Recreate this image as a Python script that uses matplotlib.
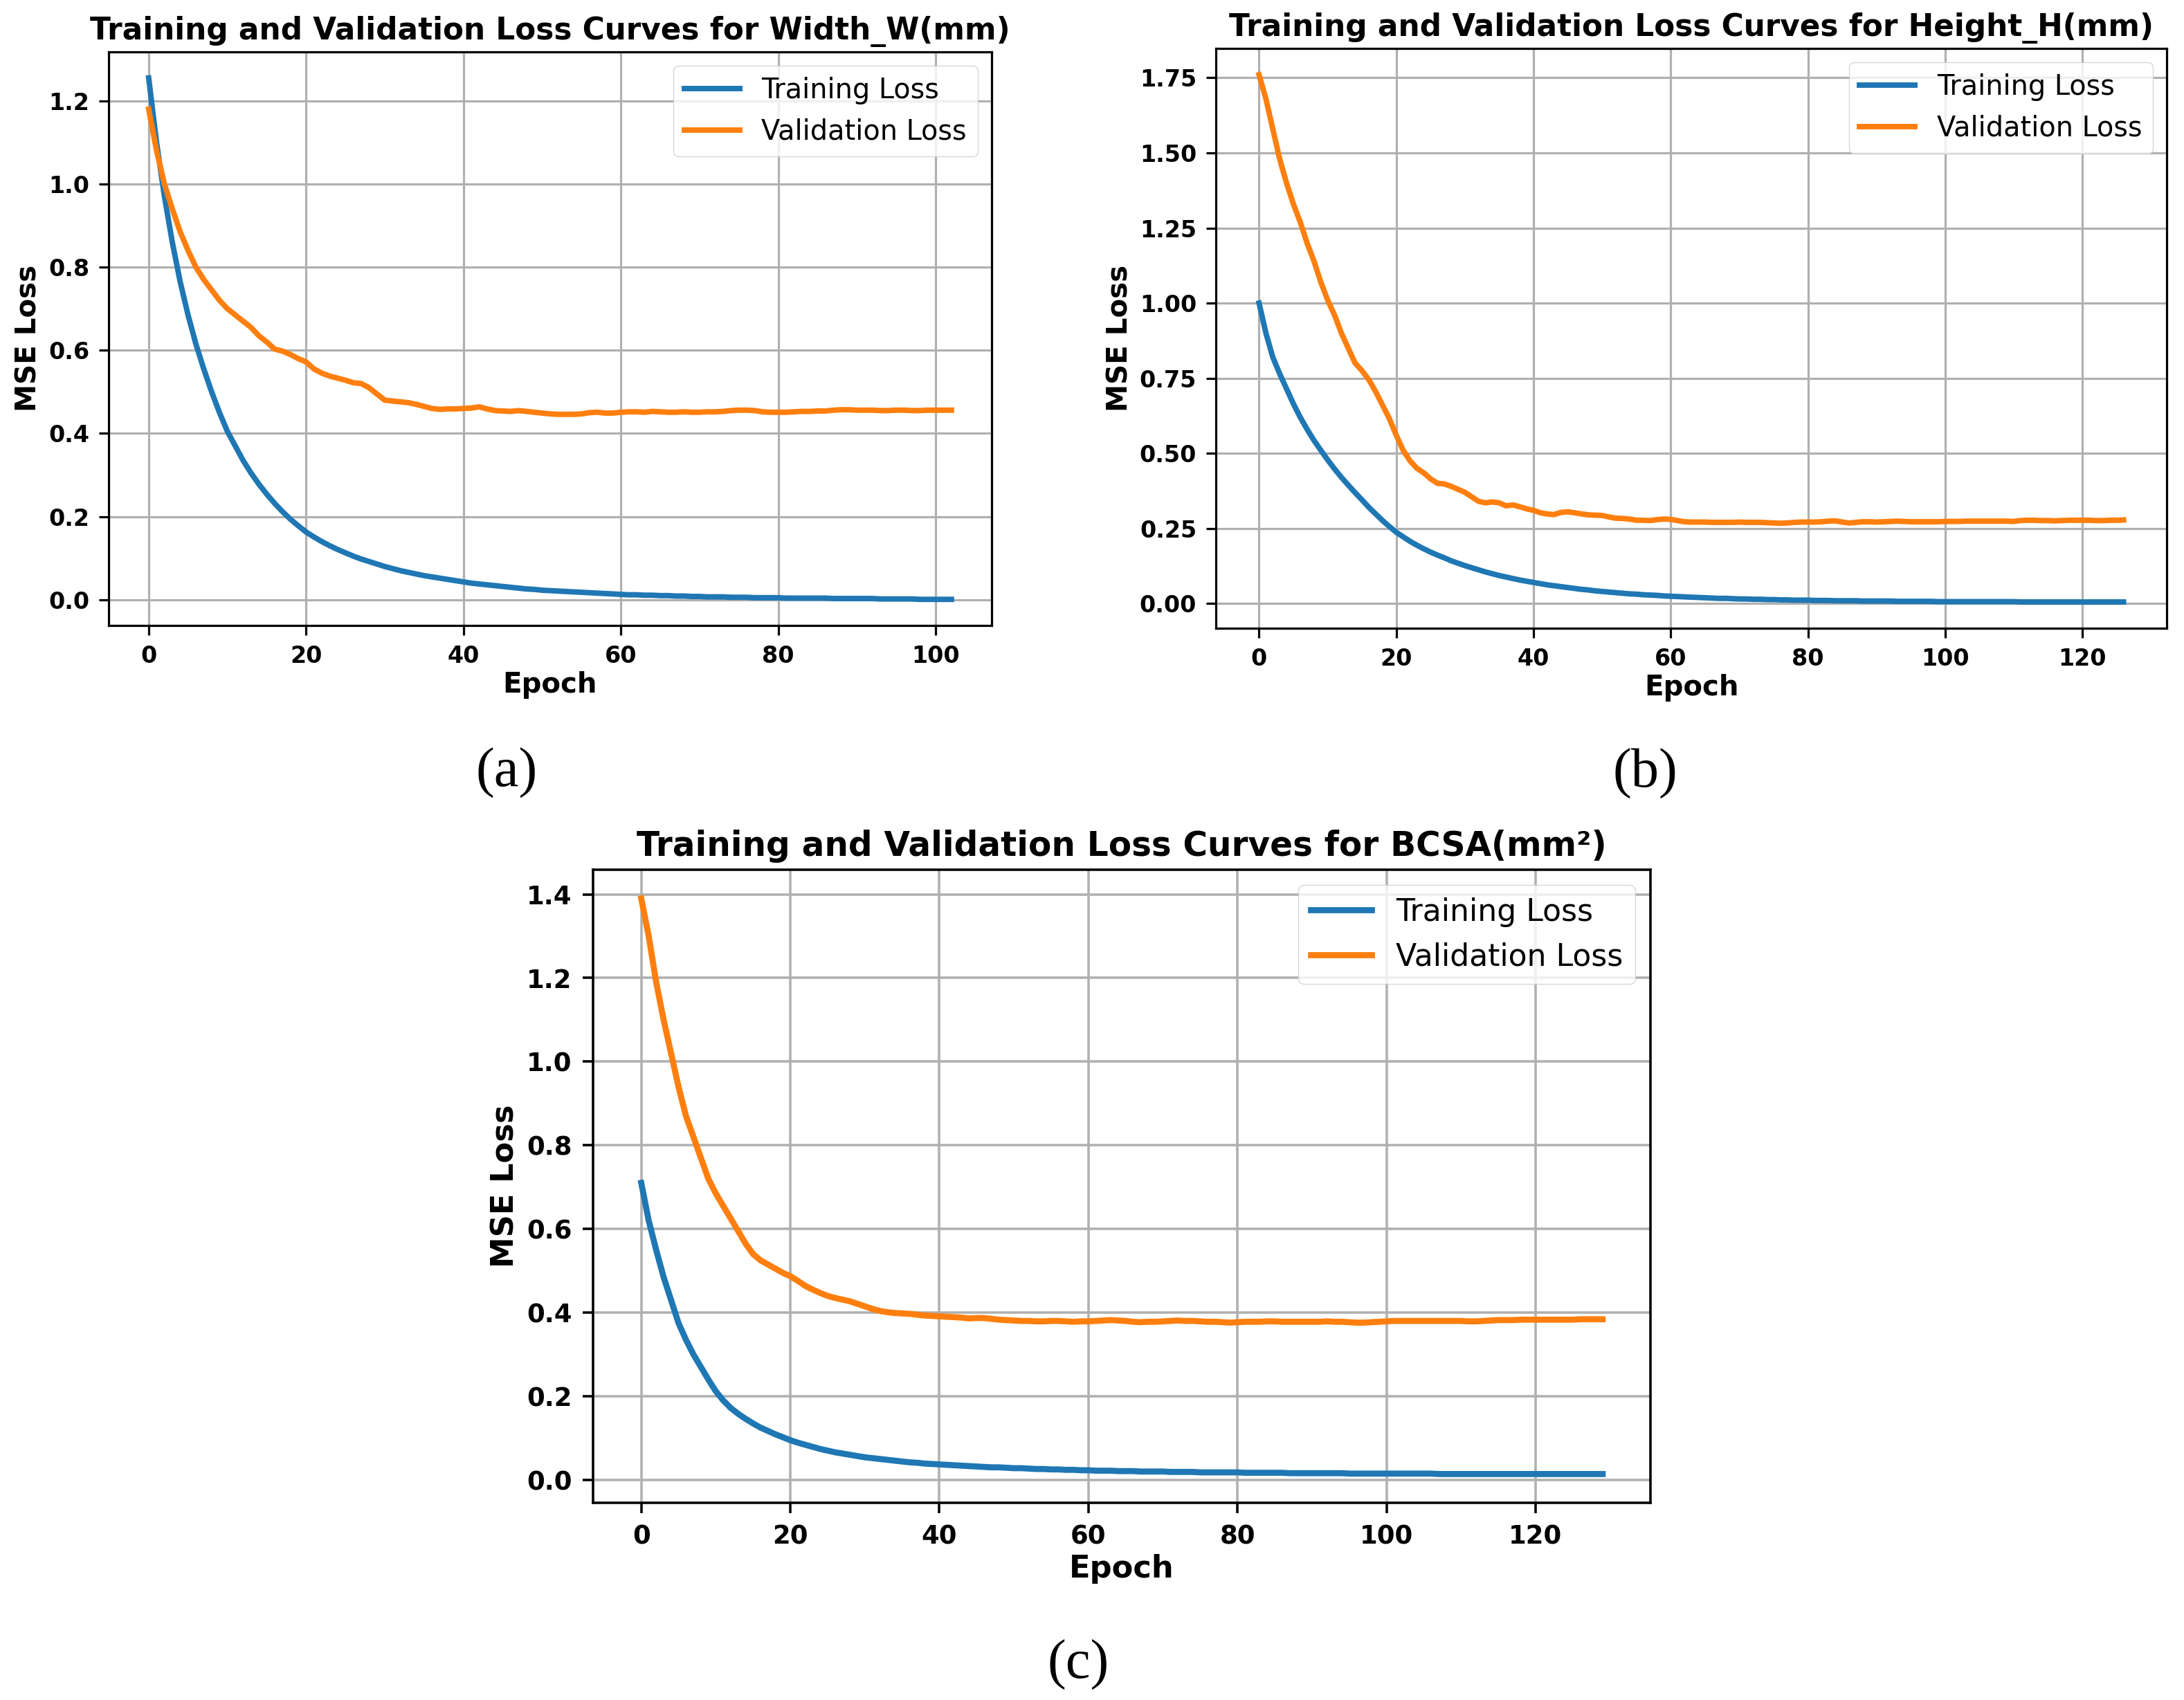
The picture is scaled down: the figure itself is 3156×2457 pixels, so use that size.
import matplotlib
matplotlib.use("Agg")
import matplotlib.pyplot as plt

# per-epoch losses
train_a = [1.255, 1.10, 0.97, 0.86, 0.765, 0.685, 0.615, 0.555, 0.50, 0.45,
           0.405, 0.37, 0.335, 0.305, 0.278, 0.254, 0.232, 0.212, 0.194, 0.178,
           0.163, 0.151, 0.140, 0.130, 0.121, 0.113, 0.105, 0.098, 0.092, 0.086,
           0.080, 0.075, 0.070, 0.066, 0.062, 0.058, 0.055, 0.052, 0.049, 0.046,
           0.043, 0.040, 0.038, 0.036, 0.034, 0.032, 0.030, 0.028, 0.026, 0.025,
           0.023, 0.022, 0.021, 0.020, 0.019, 0.018, 0.017, 0.016, 0.015, 0.014,
           0.013, 0.012, 0.012, 0.011, 0.011, 0.010, 0.010, 0.009, 0.009, 0.008,
           0.008, 0.007, 0.007, 0.007, 0.006, 0.006, 0.006, 0.005, 0.005, 0.005,
           0.005, 0.004, 0.004, 0.004, 0.004, 0.004, 0.004, 0.003, 0.003, 0.003,
           0.003, 0.003, 0.003, 0.002, 0.002, 0.002, 0.002, 0.002, 0.001, 0.001,
           0.001, 0.001, 0.001]
val_a = [1.18, 1.08, 1.00, 0.94, 0.885, 0.84, 0.80, 0.77, 0.745, 0.72,
         0.70, 0.685, 0.67, 0.655, 0.635, 0.62, 0.603, 0.598, 0.59, 0.58,
         0.572, 0.555, 0.545, 0.538, 0.533, 0.528, 0.522, 0.520, 0.510, 0.495,
         0.480, 0.478, 0.476, 0.474, 0.470, 0.465, 0.460, 0.458, 0.459, 0.459,
         0.460, 0.461, 0.464, 0.459, 0.455, 0.454, 0.453, 0.455, 0.453, 0.451,
         0.449, 0.447, 0.446, 0.446, 0.446, 0.447, 0.450, 0.451, 0.449, 0.449,
         0.451, 0.452, 0.452, 0.451, 0.453, 0.452, 0.451, 0.451, 0.452, 0.451,
         0.451, 0.452, 0.452, 0.453, 0.455, 0.456, 0.456, 0.455, 0.452, 0.451,
         0.451, 0.451, 0.452, 0.453, 0.453, 0.454, 0.454, 0.456, 0.457, 0.457,
         0.456, 0.456, 0.456, 0.455, 0.455, 0.456, 0.456, 0.455, 0.455, 0.456,
         0.456, 0.456, 0.456]

train_b = [1.00, 0.90, 0.82, 0.765, 0.715, 0.665, 0.62, 0.58, 0.543, 0.51,
           0.478, 0.448, 0.42, 0.394, 0.369, 0.345, 0.32, 0.298, 0.276, 0.256,
           0.237, 0.222, 0.207, 0.194, 0.182, 0.171, 0.161, 0.152, 0.142, 0.134,
           0.126, 0.119, 0.112, 0.105, 0.099, 0.093, 0.088, 0.083, 0.078, 0.074,
           0.070, 0.066, 0.062, 0.059, 0.056, 0.053, 0.050, 0.047, 0.045, 0.042,
           0.040, 0.038, 0.036, 0.034, 0.032, 0.031, 0.029, 0.028, 0.027, 0.025,
           0.024, 0.023, 0.022, 0.021, 0.020, 0.019, 0.018, 0.017, 0.017, 0.016,
           0.015, 0.015, 0.014, 0.014, 0.013, 0.013, 0.012, 0.012, 0.011, 0.011,
           0.011, 0.010, 0.010, 0.010, 0.009, 0.009, 0.009, 0.009, 0.008, 0.008,
           0.008, 0.008, 0.008, 0.007, 0.007, 0.007, 0.007, 0.007, 0.007, 0.006,
           0.006, 0.006, 0.006, 0.006, 0.006, 0.006, 0.006, 0.006, 0.006, 0.006,
           0.006, 0.005, 0.005, 0.005, 0.005, 0.005, 0.005, 0.005, 0.005, 0.005,
           0.005, 0.005, 0.005, 0.005, 0.005, 0.005, 0.005]
val_b = [1.76, 1.68, 1.58, 1.48, 1.40, 1.33, 1.27, 1.20, 1.14, 1.07,
         1.01, 0.96, 0.90, 0.85, 0.80, 0.775, 0.745, 0.705, 0.66, 0.615,
         0.56, 0.51, 0.475, 0.45, 0.435, 0.415, 0.40, 0.398, 0.39, 0.38,
         0.37, 0.355, 0.34, 0.335, 0.338, 0.335, 0.325, 0.328, 0.322, 0.315,
         0.31, 0.302, 0.298, 0.296, 0.303, 0.305, 0.302, 0.298, 0.295, 0.294,
         0.293, 0.288, 0.284, 0.283, 0.281, 0.277, 0.277, 0.276, 0.279, 0.281,
         0.28, 0.276, 0.272, 0.271, 0.271, 0.271, 0.270, 0.270, 0.270, 0.270,
         0.271, 0.270, 0.270, 0.270, 0.269, 0.268, 0.267, 0.268, 0.270, 0.271,
         0.271, 0.271, 0.272, 0.274, 0.275, 0.271, 0.268, 0.270, 0.272, 0.272,
         0.271, 0.272, 0.273, 0.274, 0.273, 0.272, 0.272, 0.272, 0.272, 0.272,
         0.273, 0.273, 0.273, 0.274, 0.274, 0.274, 0.274, 0.274, 0.274, 0.274,
         0.273, 0.276, 0.277, 0.277, 0.276, 0.276, 0.275, 0.276, 0.277, 0.277,
         0.277, 0.277, 0.276, 0.276, 0.277, 0.277, 0.278]

train_c = [0.71, 0.62, 0.55, 0.485, 0.43, 0.375, 0.335, 0.30, 0.27, 0.24,
           0.212, 0.19, 0.172, 0.158, 0.146, 0.135, 0.125, 0.117, 0.109, 0.102,
           0.095, 0.089, 0.084, 0.079, 0.074, 0.070, 0.066, 0.063, 0.060, 0.057,
           0.054, 0.052, 0.050, 0.048, 0.046, 0.044, 0.042, 0.041, 0.039, 0.038,
           0.037, 0.036, 0.035, 0.034, 0.033, 0.032, 0.031, 0.030, 0.030, 0.029,
           0.028, 0.028, 0.027, 0.026, 0.026, 0.025, 0.025, 0.024, 0.024, 0.023,
           0.023, 0.022, 0.022, 0.022, 0.021, 0.021, 0.021, 0.020, 0.020, 0.020,
           0.020, 0.019, 0.019, 0.019, 0.019, 0.018, 0.018, 0.018, 0.018, 0.018,
           0.018, 0.017, 0.017, 0.017, 0.017, 0.017, 0.017, 0.016, 0.016, 0.016,
           0.016, 0.016, 0.016, 0.016, 0.016, 0.015, 0.015, 0.015, 0.015, 0.015,
           0.015, 0.015, 0.015, 0.015, 0.015, 0.015, 0.015, 0.014, 0.014, 0.014,
           0.014, 0.014, 0.014, 0.014, 0.014, 0.014, 0.014, 0.014, 0.014, 0.014,
           0.014, 0.014, 0.014, 0.014, 0.014, 0.014, 0.014, 0.014, 0.014, 0.014]
val_c = [1.39, 1.30, 1.19, 1.10, 1.02, 0.94, 0.87, 0.82, 0.77, 0.72,
         0.685, 0.655, 0.625, 0.595, 0.565, 0.54, 0.525, 0.515, 0.505, 0.495,
         0.487, 0.476, 0.464, 0.455, 0.447, 0.440, 0.435, 0.431, 0.427, 0.421,
         0.415, 0.409, 0.404, 0.401, 0.399, 0.398, 0.397, 0.395, 0.393, 0.392,
         0.391, 0.390, 0.389, 0.388, 0.386, 0.387, 0.387, 0.385, 0.383, 0.382,
         0.381, 0.380, 0.380, 0.379, 0.379, 0.380, 0.380, 0.379, 0.378, 0.379,
         0.379, 0.380, 0.381, 0.382, 0.381, 0.380, 0.378, 0.377, 0.378, 0.378,
         0.379, 0.380, 0.381, 0.380, 0.380, 0.379, 0.378, 0.378, 0.377, 0.376,
         0.377, 0.378, 0.378, 0.378, 0.379, 0.379, 0.378, 0.378, 0.378, 0.378,
         0.378, 0.378, 0.379, 0.378, 0.378, 0.377, 0.376, 0.376, 0.377, 0.378,
         0.379, 0.380, 0.380, 0.380, 0.380, 0.380, 0.380, 0.380, 0.380, 0.380,
         0.380, 0.379, 0.379, 0.380, 0.381, 0.382, 0.382, 0.382, 0.383, 0.383,
         0.383, 0.383, 0.383, 0.383, 0.383, 0.383, 0.384, 0.384, 0.384, 0.384]

titles = ["Training and Validation Loss Curves for Width_W(mm)",
          "Training and Validation Loss Curves for Height_H(mm)",
          "Training and Validation Loss Curves for BCSA(mm²)"]
panel_tags = ["(a)", "(b)", "(c)"]


def draw_panel(ax, train, val, title, s):
    ax.plot(range(len(train)), train, color="#1f77b4", lw=5.7 * s, label="Training Loss")
    ax.plot(range(len(val)), val, color="#ff7f0e", lw=5.7 * s, label="Validation Loss")
    ax.set_title(title, fontsize=31.5 * s, fontweight="bold", pad=13 * s)
    ax.set_xlabel("Epoch", fontsize=29 * s, fontweight="bold", labelpad=4 * s)
    ax.set_ylabel("MSE Loss", fontsize=29 * s, fontweight="bold", labelpad=6 * s)
    ax.grid(True, lw=2.3 * s, color="#b0b0b0")
    ax.tick_params(labelsize=24 * s, length=10 * s, width=2.3 * s, pad=10 * s)
    for lab in ax.get_xticklabels() + ax.get_yticklabels():
        lab.set_fontweight("bold")
    for sp in ax.spines.values():
        sp.set_linewidth(2.3 * s)
    ax.legend(fontsize=28.6 * s, loc="upper right")


fig = plt.figure(figsize=(31.56, 24.57), dpi=100)

ax_a = fig.add_axes([0.0497, 0.6321, 0.4043, 0.3374])
draw_panel(ax_a, train_a, val_a, titles[0], 1.0)

ax_b = fig.add_axes([0.5567, 0.6304, 0.4354, 0.3411])
draw_panel(ax_b, train_b, val_b, titles[1], 1.0)

ax_c = fig.add_axes([0.2716, 0.1160, 0.4842, 0.3724])
draw_panel(ax_c, train_c, val_c, titles[2], 1.11)

tag_pos = [(0.2319, 0.5454), (0.7532, 0.5446), (0.4937, 0.0204)]
for tag, (x, y) in zip(panel_tags, tag_pos):
    fig.text(x, y, tag, ha="center", va="center", fontsize=58,
             family="Liberation Serif")

fig.savefig("out.png", dpi=100)
